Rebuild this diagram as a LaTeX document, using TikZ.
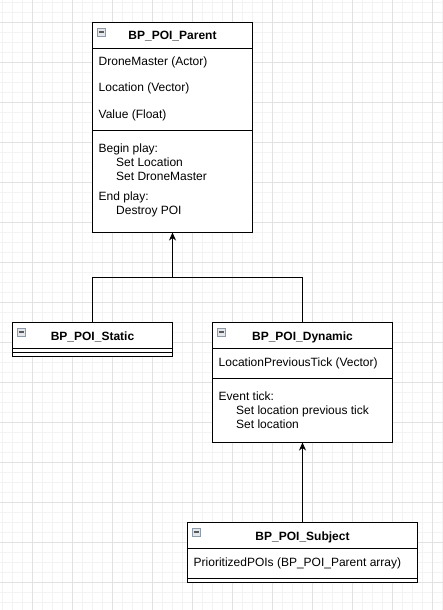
\documentclass[tikz,border=0pt]{standalone}
\usepackage{fontspec}
\setmainfont{Liberation Sans}
\usetikzlibrary{arrows.meta,positioning}
\definecolor{minorgrid}{HTML}{F3F3F3}
\definecolor{majorgrid}{HTML}{E2E2E2}
\definecolor{iconline}{HTML}{8C9AAA}
\definecolor{iconfill}{HTML}{E4E8EC}

\tikzset{
  classbox/.style={draw,line width=1pt,fill=white,inner sep=0pt,outer sep=0pt},
  classname/.style={anchor=base,inner sep=0pt,font=\fontsize{12}{14}\selectfont\bfseries},
  member/.style={anchor=base west,inner sep=0pt},
  togglebox/.style={draw=iconline,fill=iconfill,line width=.8pt,minimum size=8pt,inner sep=0pt,
    path picture={\draw[line width=1.2pt,black!65] ([xshift=1.8pt]path picture bounding box.west) -- ([xshift=-1.8pt]path picture bounding box.east);}},
  sepline/.style={line width=1pt},
  inherit/.style={line width=1pt,-{Stealth[length=8pt,width=7pt,inset=2.5pt]}}
}

\begin{document}
\begin{tikzpicture}[x=1pt,y=-1pt,font=\fontsize{12}{14}\selectfont]
\useasboundingbox (0,0) rectangle (443,610);

% grid
\foreach \x in {2.5,12.5,...,442.5}
  \draw[minorgrid,line width=1pt] (\x,0) -- (\x,610);
\foreach \y in {2.5,12.5,...,602.5}
  \draw[minorgrid,line width=1pt] (0,\y) -- (443,\y);
\foreach \x in {32.5,72.5,...,432.5}
  \draw[majorgrid,line width=1pt] (\x,0) -- (\x,610);
\foreach \y in {22.5,62.5,...,582.5}
  \draw[majorgrid,line width=1pt] (0,\y) -- (443,\y);

% BP_POI_Parent
\node[classbox,minimum width=160pt,minimum height=210pt] (parent) at (172.5,127.5) {};
\node[togglebox] (parenticon) at ([xshift=9pt,yshift=-9.5pt]parent.north west) {};
\node[classname] (parentname) at ([yshift=-17.5pt]parent.north) {BP\_POI\_Parent};
\draw[sepline] ([yshift=-26pt]parent.north west) -- ([yshift=-26pt]parent.north east);
\draw[sepline] ([yshift=-108pt]parent.north west) -- ([yshift=-108pt]parent.north east);
\foreach \i/\dx/\dy/\txt in {1/6/43.5/{DroneMaster (Actor)},2/6/69.5/{Location (Vector)},
    3/6/95.5/{Value (Float)},4/6/129.5/{Begin play:},5/23.5/143.5/{Set Location},
    6/23.5/157.5/{Set DroneMaster},7/6/178/{End play:},8/23.5/191.5/{Destroy POI}}
  \node[member] (pm\i) at ([xshift=\dx pt,yshift=-\dy pt]parent.north west) {\txt};

% BP_POI_Static
\node[classbox,minimum width=160pt,minimum height=34pt] (static) at (92.5,339.5) {};
\node[togglebox] (staticicon) at ([xshift=9pt,yshift=-9.5pt]static.north west) {};
\node[classname] (staticname) at ([yshift=-17.5pt]static.north) {BP\_POI\_Static};
\draw[sepline] ([yshift=-26pt]static.north west) -- ([yshift=-26pt]static.north east);
\draw[sepline] ([yshift=-30pt]static.north west) -- ([yshift=-30pt]static.north east);

% BP_POI_Dynamic
\node[classbox,minimum width=180pt,minimum height=120pt] (dynamic) at (302.5,382.5) {};
\node[togglebox] (dynamicicon) at ([xshift=9pt,yshift=-9.5pt]dynamic.north west) {};
\node[classname] (dynamicname) at ([yshift=-17.5pt]dynamic.north) {BP\_POI\_Dynamic};
\draw[sepline] ([yshift=-26pt]dynamic.north west) -- ([yshift=-26pt]dynamic.north east);
\draw[sepline] ([yshift=-56pt]dynamic.north west) -- ([yshift=-56pt]dynamic.north east);
\foreach \i/\dx/\dy/\txt in {1/6/43.5/{LocationPreviousTick (Vector)},2/6/77.5/{Event tick:},
    3/23.5/91.5/{Set location previous tick},4/23.5/105.5/{Set location}}
  \node[member] (dm\i) at ([xshift=\dx pt,yshift=-\dy pt]dynamic.north west) {\txt};

% BP_POI_Subject
\node[classbox,minimum width=230pt,minimum height=60pt] (subject) at (302.5,552.5) {};
\node[togglebox] (subjecticon) at ([xshift=9pt,yshift=-9.5pt]subject.north west) {};
\node[classname] (subjectname) at ([yshift=-17.5pt]subject.north) {BP\_POI\_Subject};
\draw[sepline] ([yshift=-26pt]subject.north west) -- ([yshift=-26pt]subject.north east);
\draw[sepline] ([yshift=-56pt]subject.north west) -- ([yshift=-56pt]subject.north east);
\node[member] (sm1) at ([xshift=6pt,yshift=-43.5pt]subject.north west) {PrioritizedPOIs (BP\_POI\_Parent array)};

% inheritance
\coordinate (fork) at (172.5,277.5);
\draw[inherit] (static.north) |- (fork) -- (parent.south);
\draw[line width=1pt] (dynamic.north) |- (fork);
\draw[inherit] (subject.north) -- (dynamic.south);

\end{tikzpicture}
\end{document}
